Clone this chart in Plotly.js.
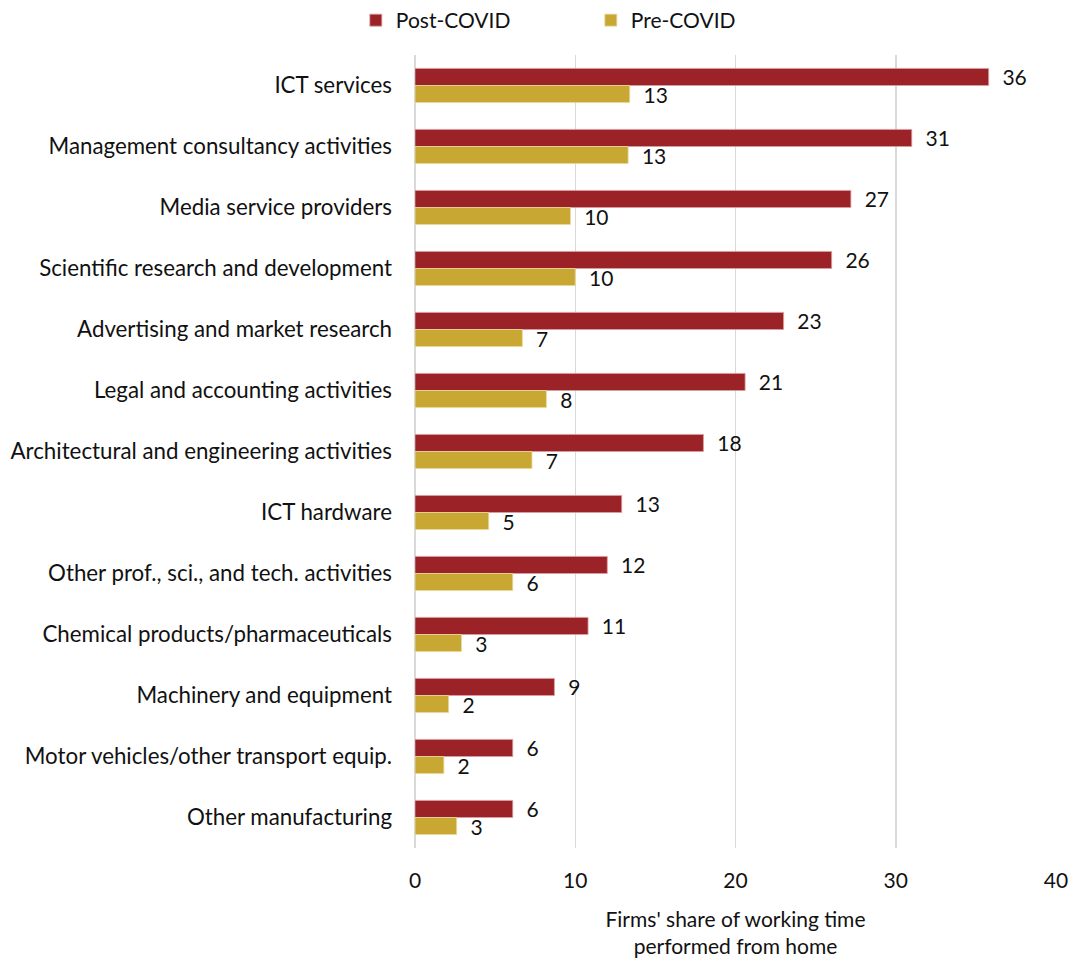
<!DOCTYPE html>
<html>
<head>
<meta charset="utf-8">
<script src="https://cdn.plot.ly/plotly-3.0.1.min.js"></script>
<style>html,body{margin:0;padding:0;background:#fff;}#chart{width:1075px;height:958px;}</style>
</head>
<body>
<div id="chart"></div>
<script>
const categories = [
  "ICT services",
  "Management consultancy activities",
  "Media service providers",
  "Scientific research and development",
  "Advertising and market research",
  "Legal and accounting activities",
  "Architectural and engineering activities",
  "ICT hardware",
  "Other prof., sci., and tech. activities",
  "Chemical products/pharmaceuticals",
  "Machinery and equipment",
  "Motor vehicles/other transport equip.",
  "Other manufacturing"
];
const postCovid = [35.8, 31.0, 27.2, 26.0, 23.0, 20.6, 18.0, 12.9, 12.0, 10.8, 8.7, 6.1, 6.1];
const preCovid  = [13.4, 13.3, 9.7, 10.0, 6.7, 8.2, 7.3, 4.6, 6.1, 2.9, 2.1, 1.8, 2.6];
const xTicks = [0, 10, 20, 30, 40];

const pad = "\u00a0\u00a0";
const fontFam = "Lato, 'Open Sans', sans-serif";
const fs = 21;

const traces = [
  {
    type: "bar", orientation: "h", name: "Post-COVID",
    y: categories, x: postCovid,
    marker: {color: "#9B2327", line: {color: "#D9A0A0", width: 0.8}},
    text: postCovid.map(v => pad + Math.round(v)),
    textposition: "outside", cliponaxis: false, constraintext: "none",
    textfont: {family: fontFam, size: fs, color: "#111"}
  },
  {
    type: "bar", orientation: "h", name: "Pre-COVID",
    y: categories, x: preCovid,
    marker: {color: "#C8A832", line: {color: "#E8D9A0", width: 0.8}},
    text: preCovid.map(v => pad + Math.round(v)),
    textposition: "outside", cliponaxis: false, constraintext: "none",
    textfont: {family: fontFam, size: fs, color: "#111"}
  }
];

const layout = {
  width: 1075, height: 958,
  margin: {l: 415, r: 19, t: 55, b: 110},
  paper_bgcolor: "#fff", plot_bgcolor: "#fff",
  font: {family: fontFam, size: fs, color: "#111"},
  barmode: "group", bargap: 0.44, bargroupgap: 0,
  showlegend: true,
  legend: {
    orientation: "h", xref: "container", yref: "container",
    x: 0.331, xanchor: "left", y: 1, yanchor: "top",
    entrywidth: 190, entrywidthmode: "pixels",
    font: {family: fontFam, size: fs, color: "#111"},
    itemclick: false
  },
  xaxis: {
    range: [0, 40], tickvals: xTicks, ticktext: xTicks.map(String),
    showgrid: true, gridcolor: "#D9D9D9", gridwidth: 1.5,
    zeroline: true, zerolinecolor: "#D9D9D9", zerolinewidth: 1.5,
    showline: false, ticks: "", ticklen: 0,
    ticklabelstandoff: 18,
    tickfont: {family: fontFam, size: fs, color: "#111"},
    automargin: false,
    title: {text: "Firms' share of working time<br>performed from home", standoff: 24,
            font: {family: fontFam, size: fs, color: "#111"}}
  },
  yaxis: {
    autorange: "reversed", type: "category",
    showgrid: false, zeroline: false, showline: false, ticks: "",
    ticklabelstandoff: 22,
    tickfont: {family: fontFam, size: 22.3, color: "#111"},
    automargin: false
  }
};

Plotly.newPlot("chart", traces, layout, {staticPlot: true, displayModeBar: false});
</script>
</body>
</html>
